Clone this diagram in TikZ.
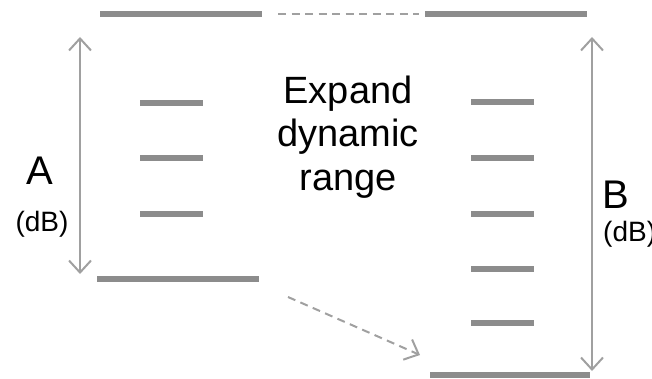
\documentclass[tikz,border=0pt]{standalone}
\usepackage{fontspec}
\setmainfont{Liberation Sans}
\usetikzlibrary{arrows.meta}
\definecolor{bargray}{RGB}{140,140,140}
\definecolor{linegray}{RGB}{160,160,160}
\tikzset{
  level/.style={draw=bargray, line width=6pt},
  span/.style={draw=linegray, line width=2pt, {Straight Barb[length=12pt,width=22pt]}-{Straight Barb[length=12pt,width=22pt]}},
  link/.style={draw=linegray, line width=2.5pt, dash pattern=on 8pt off 5.5pt},
  linkarrow/.style={link, line width=2pt, -{Straight Barb[length=12pt,width=22pt]}},
  big/.style={font=\fontsize{40}{44}\selectfont, inner sep=0pt},
  mid/.style={font=\fontsize{38}{43}\selectfont, inner sep=0pt},
  unit/.style={font=\fontsize{28}{32}\selectfont, inner sep=0pt},
}
\begin{document}
\begin{tikzpicture}[x=1pt,y=-1pt]
\useasboundingbox (0,0) rectangle (652,379);

% left scale: levels
\coordinate (lt1) at (100,14);  \coordinate (lt2) at (262,14);
\coordinate (lb1) at (97,279);  \coordinate (lb2) at (259,279);
\draw[level] (lt1) -- (lt2);
\draw[level] (lb1) -- (lb2);
\foreach \y [count=\i] in {103,158,214}{
  \coordinate (ls\i a) at (140,\y); \coordinate (ls\i b) at (203,\y);
  \draw[level] (ls\i a) -- (ls\i b);
}

% right scale: levels
\coordinate (rt1) at (425,14);  \coordinate (rt2) at (587,14);
\coordinate (rb1) at (430,375); \coordinate (rb2) at (590,375);
\draw[level] (rt1) -- (rt2);
\draw[level] (rb1) -- (rb2);
\foreach \y [count=\i] in {102,158,214,269,323}{
  \coordinate (rs\i a) at (471,\y); \coordinate (rs\i b) at (534,\y);
  \draw[level] (rs\i a) -- (rs\i b);
}

% range arrows
\coordinate (la1) at (80,37);  \coordinate (la2) at (80,274);
\coordinate (ra1) at (592,37); \coordinate (ra2) at (592,371);
\draw[span] (la1) -- (la2);
\draw[span] (ra1) -- (ra2);

% mapping of top and bottom levels
\coordinate (d1) at (278,14);  \coordinate (d2) at (419,14);
\draw[link] (d1) -- (d2);
\coordinate (e1) at (288,297); \coordinate (e2) at (420,355);
\draw[linkarrow] (e1) -- (e2);

% labels
\node[big, anchor=base] (A) at (40,185) {A};
\node[unit, anchor=base] (Au) at (42,231) {(dB)};
\node[big, anchor=base] (B) at (616,208) {B};
\node[unit, anchor=base west] (Bu) at (603,241) {(dB)};

\node[mid, anchor=base] (t1) at (348,104) {Expand};
\node[mid, anchor=base] (t2) at (348,147) {dynamic};
\node[mid, anchor=base] (t3) at (348,190) {range};
\end{tikzpicture}
\end{document}
